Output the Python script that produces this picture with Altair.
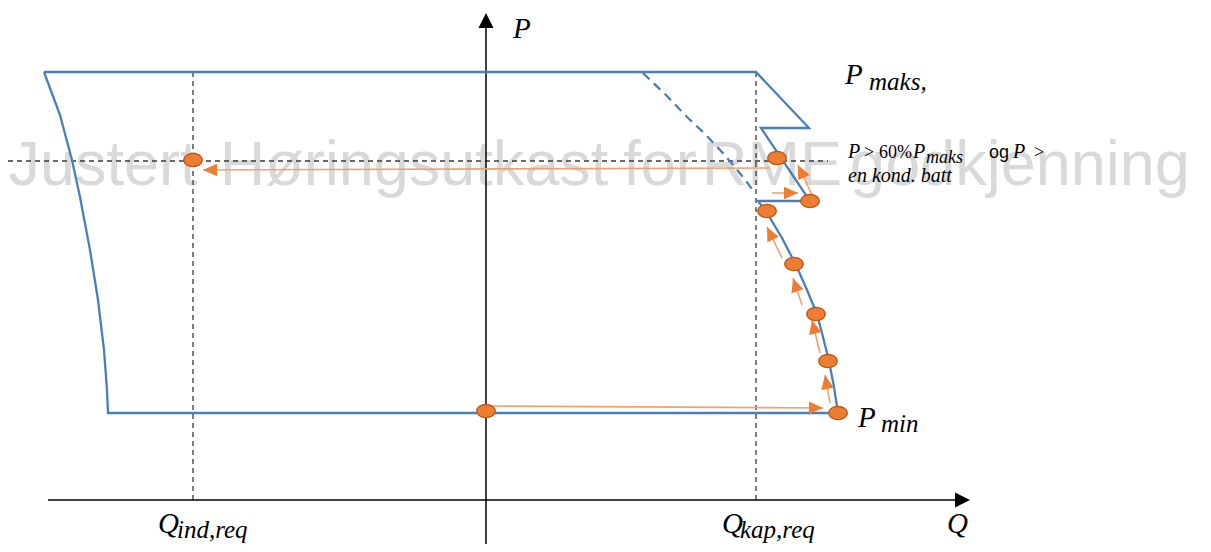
import altair as alt
import pandas as pd
import numpy as np

# Diagram coordinates: Q (horizontal), P (vertical); origin where the axes cross.
# Solid capability outline (blue), traced clockwise from the top-left corner
outline_q = [-442, 270, 323, 275, 324, 272, 281, 296, 310, 321, 331, 337, 343, 348, 352,
             -378, -379, -382, -388, -396, -406, -414, -426, -442]
outline_p = [428, 428, 372, 372, 299, 299, 287, 262, 235, 210, 186, 163, 139, 113, 87,
             87, 110, 150, 200, 250, 303, 340, 385, 428]

# Dashed continuation of the arc above the step
arc_q = [157, 180, 201, 219, 234, 248, 260, 269]
arc_p = [427, 405, 383, 366, 350, 334, 319, 307]

# Black dashed guide lines (start -> end)
guide_q0 = [-293, 270, -478]
guide_p0 = [428, 428, 339]
guide_q1 = [-293, 270, 342]
guide_p1 = [0, 0, 339]

# Axes (line start -> end) and their arrow tips
axis_q0 = [-438, 0]
axis_p0 = [0, -44]
axis_q1 = [474, 0]
axis_p1 = [0, 475]
axis_tip_q = [484, 0]
axis_tip_p = [0, 487]

# Orange operating points
dot_q = [-293, 291, 324, 281, 308, 330, 342, 352, 0]
dot_p = [340, 342, 299, 289, 236, 186, 139, 87, 89]

# Orange arrows (tail -> tip)
arrow_q0 = [284, 4, 286, 327, 344, 334, 316, 296]
arrow_p0 = [332, 94, 307, 303, 97, 147, 195, 242]
arrow_q1 = [-283, 337, 312, 312, 339, 326, 307, 281]
arrow_p1 = [330, 92, 307, 335, 125, 180, 222, 273]

# Watermark words (centre, baseline)
wm_text = ["Justert", "Høringsutkast", "for", "RME", "godkjenning"]
wm_q = [-383, -72, 174, 286, 534]
wm_p = [315, 315, 315, 315, 315]

# Large italic symbols
big_text = ["P", "Q", "Q", "Q", "P", "P"]
big_q = [27, 461, -328, 236, 359, 372]
big_p = [462, -33, -33, -33, 416, 73]

# Subscripts
sub_text = ["ind,req", "kap,req", "maks,", "min"]
sub_q = [-309, 254, 383, 395]
sub_p = [-38, -38, 410, 68]

# Condition annotation pieces
cond_it_text = ["P", "P", "P", "en kond. batt"]
cond_it_q = [362, 427, 527, 362]
cond_it_p = [342, 342, 342, 318]
cond_up_text = [">", "60%", ">"]
cond_up_q = [378, 393, 548]
cond_up_p = [342, 342, 342]
cond_sub_text = ["maks"]
cond_sub_q = [440]
cond_sub_p = [337]
cond_og_text = ["og"]
cond_og_q = [503]
cond_og_p = [342]

BLUE = "#4A7EBB"
ORANGE = "#ED7D31"
ORANGE_LINE = "#F3A06A"
SERIF = "Liberation Serif"

XS = alt.Scale(domain=[-478, 717], nice=False, zero=False)
YS = alt.Scale(domain=[-44, 492], nice=False, zero=False)


def X(f):
    return alt.X(f"{f}:Q", scale=XS, axis=None)


def Y(f):
    return alt.Y(f"{f}:Q", scale=YS, axis=None)


# shapes
ang = np.linspace(0, 2 * np.pi, 28, endpoint=False)
ELLIPSE = "M" + " L".join(f"{np.cos(a):.3f},{0.72 * np.sin(a):.3f}" for a in ang) + " Z"
HEAD = "M0,0 L0.45,1 L-0.45,1 Z"
AXHEAD = "M0,0 L0.5,1 L-0.5,1 Z"

outline_df = pd.DataFrame({"q": outline_q, "p": outline_p, "i": range(len(outline_q))})
arc_df = pd.DataFrame({"q": arc_q, "p": arc_p, "i": range(len(arc_q))})
guide_df = pd.DataFrame({"q0": guide_q0, "p0": guide_p0, "q1": guide_q1, "p1": guide_p1})
axis_df = pd.DataFrame({"q0": axis_q0, "p0": axis_p0, "q1": axis_q1, "p1": axis_p1})
axtip_df = pd.DataFrame({"q": axis_tip_q, "p": axis_tip_p, "a": [90, 0]})
dot_df = pd.DataFrame({"q": dot_q, "p": dot_p})
arrow_df = pd.DataFrame({"q0": arrow_q0, "p0": arrow_p0, "q1": arrow_q1, "p1": arrow_p1})
arrow_df["a"] = np.degrees(np.arctan2(arrow_df.q1 - arrow_df.q0, arrow_df.p1 - arrow_df.p0)) % 360

wm_df = pd.DataFrame({"q": wm_q, "p": wm_p, "t": wm_text})
big_df = pd.DataFrame({"q": big_q, "p": big_p, "t": big_text})
sub_df = pd.DataFrame({"q": sub_q, "p": sub_p, "t": sub_text})
cit_df = pd.DataFrame({"q": cond_it_q, "p": cond_it_p, "t": cond_it_text})
cup_df = pd.DataFrame({"q": cond_up_q, "p": cond_up_p, "t": cond_up_text})
csub_df = pd.DataFrame({"q": cond_sub_q, "p": cond_sub_p, "t": cond_sub_text})
cog_df = pd.DataFrame({"q": cond_og_q, "p": cond_og_p, "t": cond_og_text})

watermark = alt.Chart(wm_df).mark_text(
    font="Liberation Sans", fontSize=63, color="#D9D9D9",
    align="center", baseline="alphabetic"
).encode(x=X("q"), y=Y("p"), text="t:N")

guides = alt.Chart(guide_df).mark_rule(
    color="#3A3A3A", strokeWidth=1.3, strokeDash=[5, 4]
).encode(x=X("q0"), y=Y("p0"), x2="q1:Q", y2="p1:Q")

axes = alt.Chart(axis_df).mark_rule(color="black", strokeWidth=1.5).encode(
    x=X("q0"), y=Y("p0"), x2="q1:Q", y2="p1:Q")

axheads = alt.Chart(axtip_df).mark_point(
    shape=AXHEAD, size=900, filled=True, color="black", opacity=1
).encode(x=X("q"), y=Y("p"), angle=alt.Angle("a:Q", scale=None))

outline = alt.Chart(outline_df).mark_line(color=BLUE, strokeWidth=2.3).encode(
    x=X("q"), y=Y("p"), order="i:Q")

arc = alt.Chart(arc_df).mark_line(color=BLUE, strokeWidth=2.3, strokeDash=[9, 6]).encode(
    x=X("q"), y=Y("p"), order="i:Q")

arrow_lines = alt.Chart(arrow_df).mark_rule(color=ORANGE_LINE, strokeWidth=1.6).encode(
    x=X("q0"), y=Y("p0"), x2="q1:Q", y2="p1:Q")

arrow_heads = alt.Chart(arrow_df).mark_point(
    shape=HEAD, size=784, filled=True, color=ORANGE, opacity=1
).encode(x=X("q1"), y=Y("p1"), angle=alt.Angle("a:Q", scale=None))

dots = alt.Chart(dot_df).mark_point(
    shape=ELLIPSE, size=340, filled=True, fill=ORANGE, stroke="#B9561A",
    strokeWidth=1.3, opacity=1
).encode(x=X("q"), y=Y("p"))

big = alt.Chart(big_df).mark_text(
    font=SERIF, fontStyle="italic", fontSize=29, color="black", align="left",
    baseline="alphabetic").encode(x=X("q"), y=Y("p"), text="t:N")

sub = alt.Chart(sub_df).mark_text(
    font=SERIF, fontStyle="italic", fontSize=25, color="black", align="left",
    baseline="alphabetic").encode(x=X("q"), y=Y("p"), text="t:N")

cit = alt.Chart(cit_df).mark_text(
    font=SERIF, fontStyle="italic", fontSize=20, color="black", align="left",
    baseline="alphabetic").encode(x=X("q"), y=Y("p"), text="t:N")

cup = alt.Chart(cup_df).mark_text(
    font=SERIF, fontSize=18, color="black", align="left",
    baseline="alphabetic").encode(x=X("q"), y=Y("p"), text="t:N")

csub = alt.Chart(csub_df).mark_text(
    font=SERIF, fontStyle="italic", fontSize=18, color="black", align="left",
    baseline="alphabetic").encode(x=X("q"), y=Y("p"), text="t:N")

cog = alt.Chart(cog_df).mark_text(
    font="Liberation Sans", fontSize=18, color="black", align="left",
    baseline="alphabetic").encode(x=X("q"), y=Y("p"), text="t:N")

chart = alt.layer(
    watermark, guides, axes, axheads, outline, arc, arrow_lines, arrow_heads, dots,
    big, sub, cit, cup, csub, cog
).properties(
    width=1195, height=536, padding=0,
    autosize=alt.AutoSizeParams(type="none")
).configure_view(stroke=None)

chart.save("out.html", embed_options={"renderer": "svg", "actions": False})
